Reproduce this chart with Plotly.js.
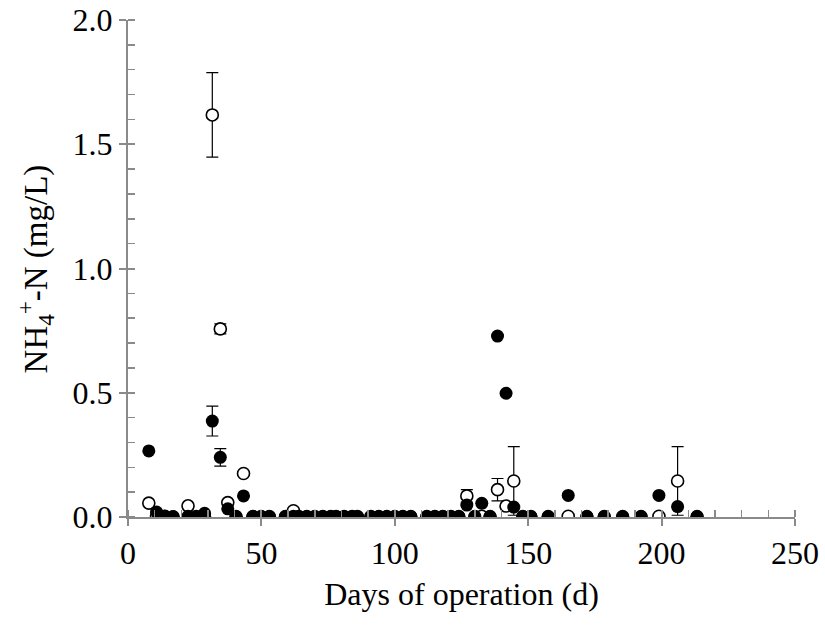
<!DOCTYPE html>
<html>
<head>
<meta charset="utf-8">
<script src="https://cdn.plot.ly/plotly-3.0.1.min.js"></script>
<style>html,body{margin:0;padding:0;background:#fff;}#chart{width:825px;height:627px;}</style>
</head>
<body>
<div id="chart"></div>
<script>
// Sampling days (d)
const days = [7.8,10.7,13.8,16.9,22.5,25.6,28.7,31.6,34.6,37.4,40.5,43.3,46.8,49.9,53,
  59,62,64,67,70,73,76,78,81,84,86,
  91,94,97,100,103,106,
  112,115,118,121,124,
  127,130,132.6,135.7,138.5,141.7,144.6,148,151,157.5,
  165,172,178.5,185.4,192.3,199,206,213.3];
// Filled-circle series (mg/L) and error
const filledVals = [0.266,0.02,0.003,0.002,0.003,0.003,0.015,0.386,0.24,0.033,0.003,0.085,0.003,0.003,0.003,
  0.003,0.003,0.003,0.003,0.003,0.003,0.003,0.003,0.003,0.003,0.003,
  0.003,0.003,0.003,0.003,0.003,0.003,
  0.003,0.003,0.003,0.003,0.003,
  0.048,0.003,0.055,0.003,0.728,0.498,0.04,0.003,0.003,0.003,
  0.087,0.003,0.003,0.003,0.003,0.087,0.042,0.003];
const filledErr = [0,0,0,0,0,0,0,0.06,0.035,0,0,0,0,0,0,
  0,0,0,0,0,0,0,0,0,0,0,
  0,0,0,0,0,0,
  0,0,0,0,0,
  0,0,0,0,0,0,0,0,0,0,
  0,0,0,0,0,0,0,0,0];
// Open-circle series (mg/L) and error
const openVals = [0.056,0.005,0.003,0,0.045,0,0,1.618,0.757,0.058,0,0.175,0,0,0,
  0,0.025,0,0,0,0,0,0,0,0,0,
  0,0,0,0,0,0,
  0,0,0,0,0,
  0.085,0,0.003,0,0.11,0.044,0.145,0,0,0,
  0.003,0,0,0,0,0.003,0.145,0];
const openErr = [0,0,0,0,0,0,0,0.17,0.02,0,0,0.008,0,0,0,
  0,0,0,0,0,0,0,0,0,0,0,
  0,0,0,0,0,0,
  0,0,0,0,0,
  0.025,0,0.008,0,0.045,0.008,0.138,0,0,0,
  0.008,0,0,0,0,0.008,0.138,0];

const xTitle = 'Days of operation (d)';
const yTitle = 'NH<sub>4</sub><sup>+</sup>-N (mg/L)';

const axisGray = '#8a8a8a';
const serif = '"Liberation Serif", "Times New Roman", serif';
const fs = 32;

const traces = [
  {x: days, y: openVals, type: 'scatter', mode: 'markers', name: 'open',
   marker: {symbol: 'circle', size: 12, color: '#ffffff', line: {color: '#000', width: 1.6}},
   error_y: {type: 'data', array: openErr, visible: true, color: '#000', thickness: 1.2, width: 6},
   showlegend: false},
  {x: days, y: filledVals, type: 'scatter', mode: 'markers', name: 'filled',
   marker: {symbol: 'circle', size: 13, color: '#000'},
   error_y: {type: 'data', array: filledErr, visible: true, color: '#000', thickness: 1.2, width: 6},
   showlegend: false},
  {x: [], y: [], xaxis: 'x2', yaxis: 'y2', type: 'scatter', mode: 'markers', showlegend: false, hoverinfo: 'skip'}
];

const layout = {
  width: 825, height: 627,
  margin: {l: 128, r: 30, t: 20, b: 110},
  paper_bgcolor: '#fff', plot_bgcolor: '#fff',
  font: {family: serif, size: fs, color: '#000'},
  showlegend: false,
  xaxis: {range: [0, 250], dtick: 50, tick0: 0, ticks: 'outside', ticklen: 7, tickwidth: 2, tickcolor: axisGray,
    showline: true, linecolor: axisGray, linewidth: 2, showgrid: false, zeroline: false,
    minor: {ticks: 'inside', dtick: 10, tick0: 0, ticklen: 7, tickwidth: 1.5, tickcolor: axisGray, showgrid: false},
    tickfont: {family: serif, size: fs, color: '#000'},
    title: {text: xTitle, font: {family: serif, size: fs, color: '#000'}, standoff: 12}},
  yaxis: {range: [0, 2], dtick: 0.5, tick0: 0, tickformat: '.1f', ticks: 'outside', ticklen: 7, tickwidth: 2, tickcolor: axisGray,
    showline: true, linecolor: axisGray, linewidth: 2, showgrid: false, zeroline: false,
    minor: {ticks: 'inside', dtick: 0.1, tick0: 0, ticklen: 7, tickwidth: 1.5, tickcolor: axisGray, showgrid: false},
    tickfont: {family: serif, size: fs, color: '#000'}},
  xaxis2: {overlaying: 'x', anchor: 'y2', range: [0, 250], dtick: 50, tick0: 0, ticks: 'inside', ticklen: 7, tickwidth: 2,
    tickcolor: axisGray, showticklabels: false, showline: false, showgrid: false, zeroline: false},
  yaxis2: {overlaying: 'y', anchor: 'x2', side: 'left', range: [0, 2], dtick: 0.5, tick0: 0, ticks: 'inside', ticklen: 7, tickwidth: 2,
    tickcolor: axisGray, showticklabels: false, showline: false, showgrid: false, zeroline: false},
  annotations: [{text: yTitle, textangle: -90, xref: 'paper', yref: 'paper', x: -0.138, y: 0.5,
    xanchor: 'center', yanchor: 'middle', showarrow: false, font: {family: serif, size: 33, color: '#000'}}]
};

Plotly.newPlot('chart', traces, layout, {displayModeBar: false, staticPlot: true});
</script>
</body>
</html>
